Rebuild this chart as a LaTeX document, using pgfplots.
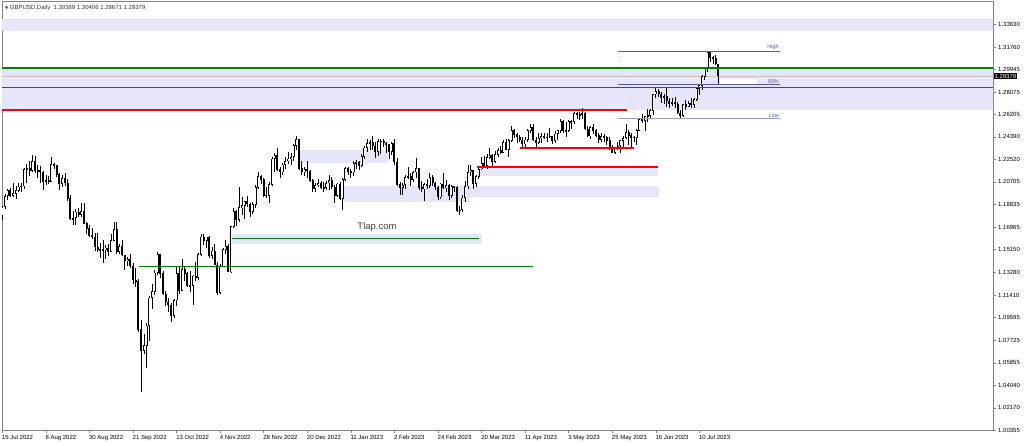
\documentclass[border=0pt]{standalone}
\usepackage{fontspec}
\setmainfont{Liberation Sans}
\newfontfamily\dejavu{DejaVu Sans}
\usepackage{pgfplots}
\usepackage{pgfplotstable}
\pgfplotsset{compat=1.18}

\definecolor{lav}{RGB}{230,230,250}
\definecolor{mtgreen}{RGB}{0,128,0}
\definecolor{fibblue}{RGB}{90,90,160}
\definecolor{fiblow}{RGB}{155,155,205}
\definecolor{framegray}{RGB}{128,128,128}
\definecolor{bidgray}{RGB}{192,192,192}

% GBPUSD daily candles, 15 Jul 2022 (i=0) to 19 Jul 2023 (i=263)
\pgfplotstableread{
i o h l c
0 1.1790 1.1875 1.1760 1.1865
1 1.1865 1.1975 1.1850 1.1955
2 1.1955 1.2015 1.1925 1.2000
3 1.2000 1.2020 1.1945 1.1960
4 1.1960 1.2065 1.1950 1.1975
5 1.1975 1.2040 1.1930 1.2000
6 1.2000 1.2065 1.1985 1.2030
7 1.2030 1.2065 1.1985 1.2035
8 1.2035 1.2185 1.2015 1.2170
9 1.2170 1.2215 1.2065 1.2180
10 1.2180 1.2245 1.2120 1.2165
11 1.2165 1.2293 1.2155 1.2240
12 1.2240 1.2285 1.2145 1.2160
13 1.2160 1.2210 1.2100 1.2165
14 1.2165 1.2200 1.2065 1.2150
15 1.2150 1.2160 1.2005 1.2075
16 1.2075 1.2125 1.2045 1.2080
17 1.2080 1.2120 1.2055 1.2075
18 1.2075 1.2275 1.2070 1.2215
19 1.2215 1.2225 1.2175 1.2210
20 1.2210 1.2210 1.2110 1.2130
21 1.2130 1.2140 1.2005 1.2055
22 1.2055 1.2125 1.2025 1.2100
23 1.2100 1.2145 1.2040 1.2060
24 1.2060 1.2090 1.1915 1.1935
25 1.1935 1.1960 1.1760 1.1765
26 1.1765 1.1835 1.1715 1.1775
27 1.1775 1.1845 1.1715 1.1825
28 1.1825 1.1855 1.1785 1.1800
29 1.1800 1.1900 1.1780 1.1830
30 1.1830 1.1900 1.1725 1.1730
31 1.1730 1.1740 1.1645 1.1690
32 1.1690 1.1720 1.1615 1.1630
33 1.1630 1.1690 1.1600 1.1620
34 1.1620 1.1650 1.1500 1.1535
35 1.1535 1.1650 1.1495 1.1510
36 1.1510 1.1570 1.1445 1.1520
37 1.1520 1.1590 1.1405 1.1510
38 1.1510 1.1555 1.1440 1.1530
39 1.1530 1.1560 1.1460 1.1500
40 1.1500 1.1645 1.1495 1.1590
41 1.1590 1.1740 1.1585 1.1680
42 1.1680 1.1740 1.1480 1.1500
43 1.1500 1.1560 1.1480 1.1545
44 1.1545 1.1590 1.1460 1.1470
45 1.1470 1.1470 1.1350 1.1420
46 1.1420 1.1455 1.1380 1.1435
47 1.1435 1.1475 1.1365 1.1380
48 1.1380 1.1405 1.1235 1.1265
49 1.1265 1.1365 1.1210 1.1255
50 1.1255 1.1275 1.0840 1.0860
51 1.0860 1.0935 1.0350 1.0685
52 1.0685 1.0825 1.0660 1.0730
53 1.0730 1.0910 1.0540 1.0890
54 1.0890 1.1135 1.0765 1.1120
55 1.1120 1.1235 1.1025 1.1170
56 1.1170 1.1350 1.1145 1.1325
57 1.1325 1.1495 1.1305 1.1475
58 1.1475 1.1480 1.1285 1.1320
59 1.1320 1.1340 1.1145 1.1150
60 1.1150 1.1175 1.1055 1.1085
61 1.1085 1.1115 1.1000 1.1060
62 1.1060 1.1075 1.0925 1.0970
63 1.0970 1.1110 1.0955 1.1100
64 1.1100 1.1380 1.1050 1.1320
65 1.1320 1.1380 1.1150 1.1180
66 1.1180 1.1440 1.1175 1.1355
67 1.1355 1.1380 1.1255 1.1320
68 1.1320 1.1335 1.1210 1.1220
69 1.1220 1.1340 1.1170 1.1220
70 1.1220 1.1310 1.1060 1.1300
71 1.1300 1.1410 1.1260 1.1285
72 1.1285 1.1485 1.1265 1.1475
73 1.1475 1.1645 1.1460 1.1620
74 1.1620 1.1645 1.1550 1.1585
75 1.1585 1.1615 1.1525 1.1620
76 1.1620 1.1630 1.1445 1.1465
77 1.1465 1.1535 1.1435 1.1505
78 1.1505 1.1565 1.1385 1.1390
79 1.1390 1.1415 1.1145 1.1160
80 1.1160 1.1395 1.1155 1.1375
81 1.1375 1.1530 1.1370 1.1515
82 1.1515 1.1590 1.1475 1.1545
83 1.1545 1.1565 1.1330 1.1330
84 1.1330 1.1710 1.1325 1.1705
85 1.1705 1.1855 1.1690 1.1830
86 1.1830 1.1840 1.1710 1.1760
87 1.1760 1.2028 1.1740 1.1860
88 1.1860 1.1950 1.1800 1.1875
89 1.1875 1.1915 1.1765 1.1910
90 1.1910 1.1955 1.1865 1.1890
91 1.1890 1.1895 1.1780 1.1825
92 1.1825 1.1905 1.1805 1.1885
93 1.1885 1.2045 1.1860 1.2025
94 1.2025 1.2155 1.2015 1.2115
95 1.2115 1.2125 1.2050 1.2090
96 1.2090 1.2100 1.1945 1.1960
97 1.1960 1.2025 1.1935 1.1960
98 1.1960 1.2070 1.1900 1.2050
99 1.2050 1.2275 1.2040 1.2260
100 1.2260 1.2310 1.2150 1.2285
101 1.2285 1.2345 1.2160 1.2170
102 1.2170 1.2195 1.2105 1.2150
103 1.2150 1.2225 1.2130 1.2210
104 1.2210 1.2275 1.2180 1.2240
105 1.2240 1.2315 1.2220 1.2260
106 1.2260 1.2310 1.2205 1.2275
107 1.2275 1.2380 1.2240 1.2370
108 1.2370 1.2446 1.2330 1.2420
109 1.2420 1.2425 1.2165 1.2180
110 1.2180 1.2240 1.2125 1.2150
111 1.2150 1.2195 1.2115 1.2175
112 1.2175 1.2240 1.2100 1.2160
113 1.2160 1.2170 1.2070 1.2080
114 1.2080 1.2090 1.1990 1.2015
115 1.2015 1.2060 1.1990 1.2045
116 1.2045 1.2090 1.2030 1.2060
117 1.2060 1.2075 1.2010 1.2020
118 1.2020 1.2070 1.1990 1.2025
119 1.2025 1.2075 1.2000 1.2060
120 1.2060 1.2125 1.2005 1.2085
121 1.2085 1.2110 1.2010 1.2030
122 1.2030 1.2045 1.1900 1.1960
123 1.1960 1.2065 1.1945 1.2055
124 1.2055 1.2070 1.1925 1.1935
125 1.1935 1.2100 1.1841 1.2090
126 1.2090 1.2190 1.2080 1.2180
127 1.2180 1.2190 1.2125 1.2155
128 1.2155 1.2175 1.2100 1.2150
129 1.2150 1.2245 1.2120 1.2220
130 1.2220 1.2250 1.2180 1.2230
131 1.2230 1.2245 1.2170 1.2200
132 1.2200 1.2300 1.2190 1.2280
133 1.2280 1.2365 1.2255 1.2350
134 1.2350 1.2420 1.2315 1.2390
135 1.2390 1.2410 1.2335 1.2395
136 1.2395 1.2447 1.2330 1.2365
137 1.2365 1.2395 1.2265 1.2315
138 1.2315 1.2420 1.2285 1.2405
139 1.2405 1.2420 1.2300 1.2405
140 1.2405 1.2420 1.2355 1.2390
141 1.2390 1.2400 1.2305 1.2375
142 1.2375 1.2380 1.2260 1.2320
143 1.2320 1.2400 1.2290 1.2390
144 1.2390 1.2420 1.2210 1.2235
145 1.2235 1.2270 1.2040 1.2050
146 1.2050 1.2070 1.1960 1.2020
147 1.2020 1.2065 1.1960 1.2045
148 1.2045 1.2125 1.2010 1.2110
149 1.2110 1.2195 1.2095 1.2115
150 1.2115 1.2145 1.2040 1.2090
151 1.2090 1.2160 1.2070 1.2150
152 1.2150 1.2270 1.2100 1.2180
153 1.2180 1.2185 1.2000 1.2025
154 1.2025 1.2075 1.1990 1.2010
155 1.2010 1.2060 1.1915 1.2050
156 1.2050 1.2090 1.2015 1.2040
157 1.2040 1.2145 1.2020 1.2110
158 1.2110 1.2125 1.2035 1.2060
159 1.2060 1.2070 1.2000 1.2030
160 1.2030 1.2040 1.1925 1.1945
161 1.1945 1.2065 1.1930 1.2055
162 1.2055 1.2145 1.2010 1.2020
163 1.2020 1.2085 1.1990 1.2040
164 1.2040 1.2050 1.1925 1.1955
165 1.1955 1.2045 1.1940 1.2035
166 1.2035 1.2040 1.1985 1.2025
167 1.2025 1.2040 1.1820 1.1835
168 1.1835 1.1870 1.1802 1.1840
169 1.1840 1.1960 1.1825 1.1940
170 1.1940 1.2075 1.1905 1.2035
171 1.2035 1.2205 1.2010 1.2150
172 1.2150 1.2205 1.2115 1.2165
173 1.2165 1.2170 1.2010 1.2055
174 1.2055 1.2130 1.2030 1.2115
175 1.2115 1.2185 1.2090 1.2175
176 1.2175 1.2275 1.2165 1.2225
177 1.2225 1.2285 1.2190 1.2200
178 1.2200 1.2300 1.2180 1.2270
179 1.2270 1.2345 1.2260 1.2290
180 1.2290 1.2300 1.2200 1.2235
181 1.2235 1.2320 1.2225 1.2295
182 1.2295 1.2345 1.2275 1.2330
183 1.2330 1.2365 1.2300 1.2310
184 1.2310 1.2410 1.2305 1.2395
185 1.2395 1.2425 1.2330 1.2335
186 1.2335 1.2420 1.2275 1.2410
187 1.2410 1.2525 1.2395 1.2490
188 1.2490 1.2500 1.2430 1.2460
189 1.2460 1.2475 1.2390 1.2440
190 1.2440 1.2455 1.2400 1.2415
191 1.2415 1.2435 1.2345 1.2380
192 1.2380 1.2440 1.2345 1.2415
193 1.2415 1.2505 1.2395 1.2490
194 1.2490 1.2545 1.2470 1.2520
195 1.2520 1.2545 1.2405 1.2415
196 1.2415 1.2440 1.2345 1.2390
197 1.2390 1.2475 1.2385 1.2430
198 1.2430 1.2475 1.2390 1.2445
199 1.2445 1.2475 1.2420 1.2435
200 1.2435 1.2475 1.2400 1.2440
201 1.2440 1.2515 1.2430 1.2445
202 1.2445 1.2450 1.2380 1.2410
203 1.2410 1.2485 1.2390 1.2465
204 1.2465 1.2490 1.2410 1.2490
205 1.2490 1.2585 1.2475 1.2570
206 1.2570 1.2580 1.2475 1.2490
207 1.2490 1.2560 1.2435 1.2490
208 1.2490 1.2580 1.2480 1.2565
209 1.2565 1.2580 1.2505 1.2565
210 1.2565 1.2645 1.2545 1.2630
211 1.2630 1.2640 1.2590 1.2620
212 1.2620 1.2640 1.2575 1.2625
213 1.2625 1.2680 1.2590 1.2630
214 1.2630 1.2640 1.2495 1.2505
215 1.2505 1.2530 1.2435 1.2445
216 1.2445 1.2530 1.2420 1.2520
217 1.2520 1.2545 1.2460 1.2490
218 1.2490 1.2505 1.2440 1.2450
219 1.2450 1.2470 1.2390 1.2415
220 1.2415 1.2470 1.2400 1.2445
221 1.2445 1.2465 1.2400 1.2435
222 1.2435 1.2450 1.2370 1.2410
223 1.2410 1.2440 1.2335 1.2340
224 1.2340 1.2375 1.2308 1.2310
225 1.2310 1.2360 1.2300 1.2345
226 1.2345 1.2395 1.2335 1.2365
227 1.2365 1.2415 1.2310 1.2410
228 1.2410 1.2445 1.2350 1.2430
229 1.2430 1.2545 1.2420 1.2480
230 1.2480 1.2495 1.2370 1.2450
231 1.2450 1.2470 1.2360 1.2435
232 1.2435 1.2450 1.2400 1.2435
233 1.2435 1.2500 1.2370 1.2490
234 1.2490 1.2590 1.2485 1.2580
235 1.2580 1.2625 1.2550 1.2570
236 1.2570 1.2605 1.2490 1.2605
237 1.2605 1.2665 1.2560 1.2615
238 1.2615 1.2670 1.2595 1.2655
239 1.2655 1.2790 1.2615 1.2790
240 1.2790 1.2848 1.2760 1.2815
241 1.2815 1.2830 1.2770 1.2790
242 1.2790 1.2810 1.2715 1.2760
243 1.2760 1.2790 1.2705 1.2770
244 1.2770 1.2840 1.2685 1.2735
245 1.2735 1.2760 1.2675 1.2715
246 1.2715 1.2760 1.2690 1.2720
247 1.2720 1.2765 1.2680 1.2710
248 1.2710 1.2725 1.2625 1.2635
249 1.2635 1.2660 1.2590 1.2615
250 1.2615 1.2710 1.2600 1.2705
251 1.2705 1.2740 1.2660 1.2690
252 1.2690 1.2730 1.2685 1.2715
253 1.2715 1.2755 1.2680 1.2705
254 1.2705 1.2760 1.2675 1.2745
255 1.2745 1.2850 1.2735 1.2835
256 1.2835 1.2870 1.2780 1.2860
257 1.2860 1.2945 1.2825 1.2935
258 1.2935 1.3010 1.2905 1.3005
259 1.3005 1.3140 1.2975 1.3135
260 1.3135 1.3142 1.3055 1.3090
261 1.3090 1.3105 1.3040 1.3085
262 1.3085 1.3115 1.3025 1.3037
263 1.30369 1.30406 1.28671 1.29379
}\candles

\begin{document}
\begin{tikzpicture}
\useasboundingbox (-2pt,-16pt) rectangle (1022pt,430pt);
\begin{axis}[
  scale only axis, width=991pt, height=429pt,
  xmin=-0.11, xmax=363.83, ymin=1.00355, ymax=1.35538,
  axis line style={framegray, line width=0.9pt},
  clip mode=individual,
  xtick={0,16,...,256},
  xticklabels={15 Jul 2022, 8 Aug 2022, 30 Aug 2022, 21 Sep 2022, 13 Oct 2022, 4 Nov 2022, 28 Nov 2022, 20 Dec 2022, 11 Jan 2023, 2 Feb 2023, 24 Feb 2023, 20 Mar 2023, 11 Apr 2023, 3 May 2023, 25 May 2023, 16 Jun 2023, 10 Jul 2023},
  ytick={1.00355,1.02170,1.04040,1.05855,1.07725,1.09595,1.11410,1.13280,1.15150,1.16965,1.18835,1.20705,1.22520,1.24390,1.26205,1.28075,1.29945,1.31760,1.33630},
  yticklabels={1.00355,1.02170,1.04040,1.05855,1.07725,1.09595,1.11410,1.13280,1.15150,1.16965,1.18835,1.20705,1.22520,1.24390,1.26205,1.28075,1.29945,1.31760,1.33630},
  xtick pos=bottom, ytick pos=right, yticklabel pos=right,
  tick align=outside, major tick length=3pt,
  tick style={framegray, line width=0.6pt},
  /pgf/number format/assume math mode=true,
  xticklabel style={font=\fontsize{6}{7}\selectfont, anchor=north west, inner sep=0pt, xshift=-0.5pt, yshift=-2pt},
  yticklabel style={font=\fontsize{6}{7}\selectfont, anchor=west, inner sep=0pt, xshift=2pt},
]
% zones
\addplot[fill=lav, draw=none, forget plot] coordinates {(-2,1.3311) (370,1.3311) (370,1.3406) (-2,1.3406)} --cycle;
\addplot[fill=lav, draw=none, forget plot] coordinates {(-2,1.2659) (370,1.2659) (370,1.3003) (-2,1.3003)} --cycle;
\addplot[fill=lav, draw=none, forget plot] coordinates {(109.3,1.2225) (141.6,1.2225) (141.6,1.2334) (109.3,1.2334)} --cycle;
\addplot[fill=lav, draw=none, forget plot] coordinates {(125.1,1.1908) (171.8,1.1908) (171.8,1.2039) (125.1,1.2039)} --cycle;
\addplot[fill=lav, draw=none, forget plot] coordinates {(170.7,1.1949) (241.2,1.1949) (241.2,1.2039) (170.7,1.2039)} --cycle;
\addplot[fill=lav, draw=none, forget plot] coordinates {(174.2,1.2121) (240.9,1.2121) (240.9,1.2192) (174.2,1.2192)} --cycle;
\addplot[fill=lav, draw=none, forget plot] coordinates {(83.4,1.1564) (176.1,1.1564) (176.1,1.1646) (83.4,1.1646)} --cycle;
\addplot[fill=white, draw=none, forget plot] coordinates {(263.6,1.2874) (277.2,1.2874) (277.2,1.2915) (263.6,1.2915)} --cycle;
% bid line
\addplot[bidgray, line width=0.8pt, forget plot] coordinates {(-2,1.29379) (370,1.29379)};

% candles: wicks, bullish bodies (outlined), bearish bodies (filled)
\addplot[draw=none, mark=none, forget plot, error bars/.cd, y dir=both, y explicit, error mark=none,
  error bar style={draw=black, line width=0.7pt}]
  table[x=i, y expr={(\thisrow{h}+\thisrow{l})/2}, y error expr={(\thisrow{h}-\thisrow{l})/2}] {\candles};
\addplot[draw=none, mark=none, forget plot, error bars/.cd, y dir=both, y explicit, error mark=none,
  error bar style={draw=black, line width=2pt}]
  table[x=i, y expr={\thisrow{c}>=\thisrow{o} ? (\thisrow{o}+\thisrow{c})/2 : nan}, y error expr={abs(\thisrow{c}-\thisrow{o})/2+0.0002}] {\candles};
\addplot[draw=none, mark=none, forget plot, error bars/.cd, y dir=both, y explicit, error mark=none,
  error bar style={draw=white, line width=0.7pt}]
  table[x=i, y expr={\thisrow{c}>=\thisrow{o} ? (\thisrow{o}+\thisrow{c})/2 : nan}, y error expr={max(abs(\thisrow{c}-\thisrow{o})/2-0.0005,0)}] {\candles};
\addplot[draw=none, mark=none, forget plot, error bars/.cd, y dir=both, y explicit, error mark=none,
  error bar style={draw=black, line width=2pt}]
  table[x=i, y expr={\thisrow{c}<\thisrow{o} ? (\thisrow{o}+\thisrow{c})/2 : nan}, y error expr={abs(\thisrow{c}-\thisrow{o})/2+0.0002}] {\candles};

% horizontal levels
\addplot[mtgreen, line width=1.8pt, forget plot] coordinates {(-2,1.3003) (370,1.3003)};
\addplot[mtgreen, line width=1.8pt, forget plot] coordinates {(-2,1.2844) (370,1.2844)};
\addplot[red, line width=1.8pt, forget plot] coordinates {(-2,1.2659) (229.4,1.2659)};
\addplot[red, line width=1.8pt, forget plot] coordinates {(190.1,1.2348) (232.1,1.2348)};
\addplot[red, line width=1.8pt, forget plot] coordinates {(174.2,1.2192) (240.9,1.2192)};
\addplot[mtgreen, line width=1.3pt, forget plot] coordinates {(84.5,1.1605) (175.1,1.1605)};
\addplot[mtgreen, line width=1.1pt, forget plot] coordinates {(50.2,1.1376) (195,1.1376)};

% fibonacci
\addplot[red!40, dotted, line width=0.6pt, forget plot] coordinates {(226.1,1.3142) (232.7,1.2590)};
\addplot[fibblue, line width=0.8pt, forget plot] coordinates {(226.1,1.3142) (285.6,1.3142)};
\addplot[fibblue, line width=0.8pt, forget plot] coordinates {(226.1,1.2866) (285.6,1.2866)};
\addplot[fiblow, line width=1.6pt, forget plot] coordinates {(226.1,1.2590) (285.6,1.2590)};
\node[anchor=south east, inner sep=1pt, text=fibblue, font=\fontsize{5.5}{6}\selectfont] at (axis cs:285.6,1.3142) {High};
\node[anchor=south east, inner sep=1pt, text=fibblue, font=\fontsize{5.5}{6}\selectfont] at (axis cs:285.6,1.2866) {50\%};
\node[anchor=south east, inner sep=1pt, text=fibblue, font=\fontsize{5.5}{6}\selectfont] at (axis cs:285.6,1.2590) {Low};

\node[text=black!75, font=\fontsize{9.5}{11}\selectfont] at (axis cs:137.6,1.1704) {Tlap.com};
\node[anchor=west, inner sep=0pt, xshift=3pt, yshift=-7pt, text=black!80, font=\fontsize{6}{7}\selectfont] at (rel axis cs:0,1) {{\dejavu\fontsize{4}{5}\selectfont ▼}\ GBPUSD,Daily\ \ 1.30369 1.30406 1.28671 1.29379};
\coordinate (tag) at (axis cs:363.83,1.29379);
\end{axis}
\node[anchor=west, fill=black, text=white, inner sep=0.8pt, minimum height=6.6pt, xshift=0.5pt, font=\fontsize{6}{7}\selectfont] at (tag) {1.29379};
\end{tikzpicture}
\end{document}
